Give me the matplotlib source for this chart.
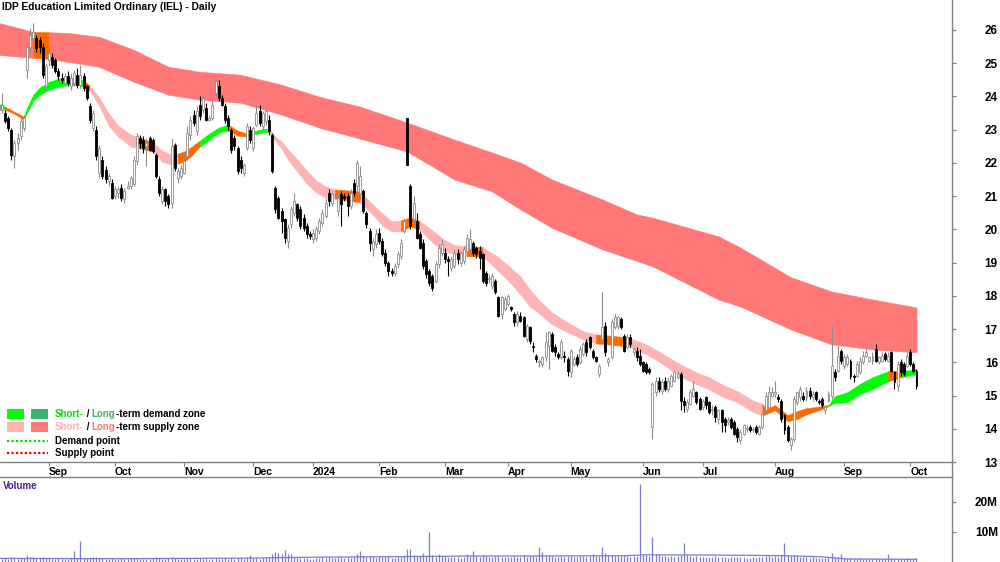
import matplotlib

matplotlib.use("Agg")
import matplotlib.pyplot as plt
import numpy as np
import pandas as pd
from matplotlib.lines import Line2D
from matplotlib.patches import Rectangle

TITLE = "IDP Education Limited Ordinary (IEL) - Daily"

FIRST_DAY = "2023-08-10"
LAST_DAY = "2024-10-03"
ASX_HOLIDAYS = ["2023-12-25", "2023-12-26", "2024-01-01", "2024-01-26",
                "2024-03-29", "2024-04-01", "2024-04-25", "2024-06-10"]
MONTH_LABELS = ["Sep", "Oct", "Nov", "Dec", "2024", "Feb", "Mar", "Apr",
                "May", "Jun", "Jul", "Aug", "Sep", "Oct"]

opens = [
    23.60, 23.60, 23.50, 23.35, 23.00, 22.20, 22.60, 22.80, 23.05, 24.80,
    25.50, 25.75, 25.75, 25.70, 25.50, 24.30, 25.10, 25.20, 25.10, 24.75,
    24.55, 24.40, 24.60, 24.30, 24.40, 24.65, 24.35, 24.60, 24.30, 23.70,
    23.05, 23.00, 21.70, 22.10, 21.80, 21.45, 21.40, 21.00, 21.10, 21.25,
    20.90, 21.25, 21.30, 21.35, 22.05, 22.75, 22.70, 22.50, 22.75, 22.70,
    22.25, 21.50, 20.85, 21.20, 21.00, 20.80, 22.55, 21.55, 21.60, 21.70,
    22.20, 22.85, 23.45, 22.95, 23.75, 23.60, 23.65, 23.30, 23.35, 24.10,
    24.30, 23.95, 23.70, 23.35, 23.00, 22.75, 22.45, 22.10, 21.70, 22.45,
    23.00, 22.45, 23.15, 23.55, 23.10, 23.25, 23.30, 22.85, 21.25, 20.95,
    20.55, 20.30, 19.65, 20.15, 20.50, 20.75, 20.60, 20.35, 20.10, 19.85,
    19.70, 19.75, 19.95, 20.20, 20.40, 21.10, 20.80, 21.00, 20.55, 21.05,
    21.00, 21.00, 20.70, 21.40, 21.30, 21.10, 21.15, 20.50, 19.95, 19.40,
    19.55, 19.90, 19.65, 19.30, 19.00, 18.75, 18.70, 18.95, 19.20, 19.95,
    23.35, 21.30, 20.30, 20.25, 19.85, 19.60, 19.05, 18.75, 18.60, 18.45,
    18.95, 19.30, 19.30, 19.10, 18.85, 18.90, 19.30, 19.00, 19.05, 19.35,
    19.40, 19.60, 19.45, 19.35, 19.25, 18.70, 18.50, 18.30, 18.45, 17.95,
    17.45, 17.60, 17.75, 17.65, 17.45, 17.20, 17.40, 17.35, 16.70, 17.05,
    16.50, 16.20, 16.00, 15.95, 16.15, 16.50, 16.85, 16.45, 16.25, 16.15,
    16.20, 16.10, 15.70, 15.95, 16.15, 16.00, 16.25, 16.60, 16.75, 16.35,
    16.15, 15.65, 16.70, 17.10, 16.00, 16.15, 17.05, 17.10, 17.30, 16.80,
    16.45, 16.75, 16.30, 16.35, 16.20, 16.00, 15.95, 15.80, 14.05, 15.10,
    15.45, 15.15, 15.45, 15.20, 15.30, 15.45, 15.55, 15.65, 14.85, 14.60,
    14.75, 15.00, 15.10, 14.90, 14.65, 14.95, 14.80, 14.55, 14.65, 14.30,
    14.55, 14.30, 14.20, 14.30, 14.20, 14.00, 13.65, 13.85, 14.00, 14.05,
    13.95, 14.05, 13.85, 14.05, 14.55, 14.65, 15.00, 15.05, 14.95, 14.85,
    14.40, 14.05, 13.50, 13.70, 14.80, 14.95, 15.00, 14.95, 15.15, 14.95,
    15.10, 14.85, 14.90, 14.55, 14.85, 15.00, 15.70, 15.75, 16.35, 15.90,
    15.95, 16.05, 15.60, 15.60, 15.70, 16.00, 16.20, 16.05, 16.05, 16.40,
    16.00, 16.05, 16.25, 16.05, 16.30, 15.70, 15.30, 16.00, 15.95, 15.90,
    16.30, 15.95, 15.75,
]
highs = [
    23.80, 24.10, 23.60, 23.40, 23.05, 22.70, 22.90, 23.35, 23.45, 25.60,
    26.05, 26.20, 25.85, 25.80, 25.60, 25.00, 25.45, 25.30, 25.15, 24.85,
    24.70, 24.70, 24.75, 24.70, 24.80, 24.85, 24.95, 24.70, 24.35, 23.80,
    23.60, 23.10, 22.55, 22.20, 21.90, 21.70, 21.50, 21.30, 21.30, 21.35,
    21.25, 21.45, 21.60, 22.20, 22.90, 22.85, 22.80, 22.75, 22.80, 22.75,
    22.30, 21.60, 21.30, 21.25, 21.05, 22.75, 22.60, 21.85, 21.95, 22.15,
    23.10, 23.40, 23.60, 23.70, 24.00, 24.05, 23.80, 23.45, 23.85, 24.55,
    24.50, 24.05, 23.80, 23.45, 23.05, 22.85, 22.50, 22.20, 22.00, 23.20,
    23.10, 23.10, 23.75, 23.75, 23.55, 23.60, 23.45, 22.90, 21.30, 21.00,
    20.65, 20.35, 20.15, 20.70, 21.10, 20.80, 20.70, 20.45, 20.20, 19.95,
    20.00, 20.10, 20.35, 20.60, 20.95, 21.20, 21.15, 21.10, 21.05, 21.15,
    21.10, 21.10, 21.20, 21.50, 22.10, 21.90, 21.20, 20.55, 20.05, 19.75,
    20.00, 20.05, 19.75, 19.40, 19.05, 18.85, 19.00, 19.35, 19.70, 20.30,
    23.35, 21.35, 21.00, 20.50, 19.95, 19.70, 19.10, 18.80, 18.65, 19.05,
    19.55, 19.70, 19.45, 19.20, 19.20, 19.40, 19.40, 19.35, 19.50, 19.85,
    20.00, 19.65, 19.50, 19.50, 19.30, 18.75, 18.65, 18.70, 18.50, 18.00,
    18.00, 18.00, 18.05, 17.70, 17.50, 17.55, 17.50, 17.40, 17.15, 17.10,
    16.60, 16.25, 16.10, 16.20, 16.90, 16.95, 16.90, 16.55, 16.30, 16.70,
    16.35, 16.15, 16.40, 16.20, 16.25, 16.50, 16.60, 16.70, 16.80, 16.40,
    16.20, 15.95, 18.10, 17.20, 16.15, 17.30, 17.45, 17.40, 17.35, 16.85,
    16.85, 16.85, 16.45, 16.45, 16.40, 16.05, 16.00, 15.85, 15.40, 15.55,
    15.55, 15.50, 15.55, 15.55, 15.65, 15.75, 15.75, 15.70, 14.95, 14.90,
    15.20, 15.45, 15.15, 14.95, 14.90, 15.00, 14.85, 14.70, 14.70, 14.60,
    14.60, 14.35, 14.35, 14.35, 14.25, 14.05, 14.00, 14.15, 14.10, 14.10,
    14.05, 14.10, 14.10, 14.50, 15.10, 15.30, 15.25, 15.45, 15.05, 14.90,
    14.45, 14.10, 13.75, 15.00, 15.15, 15.30, 15.10, 15.25, 15.25, 15.15,
    15.15, 14.90, 14.95, 14.70, 15.15, 17.10, 15.80, 16.50, 16.40, 16.25,
    16.25, 16.10, 15.65, 16.05, 16.15, 16.35, 16.40, 16.20, 16.30, 16.55,
    16.20, 16.30, 16.30, 16.30, 16.35, 15.75, 16.05, 16.10, 16.00, 16.30,
    16.40, 16.00, 15.80,
]
lows = [
    23.45, 23.50, 23.20, 22.95, 22.10, 21.85, 22.40, 22.70, 22.95, 24.55,
    25.35, 25.60, 25.35, 25.30, 24.55, 24.20, 24.90, 24.85, 24.70, 24.50,
    24.40, 24.30, 24.30, 24.20, 24.30, 24.25, 24.25, 24.15, 23.90, 23.20,
    22.95, 22.10, 21.55, 21.50, 21.40, 21.30, 20.90, 20.90, 20.95, 20.85,
    20.80, 21.20, 21.20, 21.30, 21.95, 22.45, 22.30, 21.90, 22.35, 22.30,
    21.55, 21.00, 20.75, 20.70, 20.65, 20.65, 21.75, 21.40, 21.50, 21.65,
    22.10, 22.70, 23.10, 22.85, 23.30, 23.50, 23.25, 23.25, 23.30, 24.00,
    23.85, 23.70, 23.20, 23.00, 22.30, 22.40, 21.65, 21.70, 21.60, 22.40,
    22.60, 22.35, 23.10, 23.10, 23.00, 23.15, 22.85, 21.70, 20.50, 20.30,
    19.90, 19.60, 19.45, 20.05, 20.40, 20.25, 20.00, 19.95, 19.75, 19.70,
    19.60, 19.65, 19.85, 20.10, 20.35, 20.70, 20.70, 20.90, 20.40, 20.10,
    20.85, 20.40, 20.60, 21.00, 21.15, 20.90, 20.50, 20.05, 19.35, 19.20,
    19.45, 19.55, 19.20, 18.90, 18.60, 18.60, 18.60, 18.85, 19.10, 19.90,
    21.95, 20.00, 20.20, 19.70, 19.40, 18.80, 18.55, 18.30, 18.15, 18.40,
    18.85, 19.20, 19.00, 18.60, 18.75, 18.85, 18.95, 18.90, 18.95, 19.25,
    19.35, 19.20, 19.15, 18.80, 18.40, 18.30, 18.40, 18.20, 18.05, 17.35,
    17.30, 17.55, 17.70, 17.55, 17.10, 17.10, 17.20, 16.75, 16.60, 16.55,
    16.30, 16.00, 15.85, 15.85, 16.05, 15.80, 16.30, 16.20, 16.10, 16.10,
    16.00, 15.60, 15.55, 15.90, 15.90, 15.95, 16.20, 16.20, 16.40, 16.10,
    16.00, 15.55, 16.60, 16.20, 15.90, 16.10, 17.00, 17.00, 17.00, 16.30,
    16.40, 16.45, 16.20, 16.05, 15.90, 15.70, 15.65, 15.65, 13.70, 15.00,
    15.10, 15.05, 15.15, 15.10, 15.25, 15.40, 15.50, 14.55, 14.50, 14.50,
    14.70, 14.95, 14.75, 14.55, 14.55, 14.60, 14.45, 14.40, 14.20, 14.15,
    13.90, 13.90, 14.10, 14.00, 13.80, 13.60, 13.55, 13.80, 13.90, 13.90,
    13.90, 13.85, 13.80, 14.00, 14.45, 14.55, 14.95, 14.95, 14.80, 14.20,
    13.85, 13.60, 13.35, 13.60, 14.70, 14.85, 14.85, 14.85, 14.90, 14.85,
    14.85, 14.75, 14.65, 14.45, 14.80, 14.90, 15.45, 15.70, 15.95, 15.80,
    15.90, 15.50, 15.40, 15.55, 15.65, 15.95, 16.15, 16.00, 15.95, 16.00,
    15.95, 16.00, 16.05, 16.00, 15.70, 15.20, 15.15, 15.60, 15.60, 15.85,
    15.90, 15.70, 15.20,
]
closes = [
    23.70, 23.75, 23.25, 23.05, 22.25, 22.60, 22.75, 23.25, 23.35, 25.50,
    25.85, 25.95, 25.45, 25.50, 24.65, 24.90, 25.30, 24.95, 24.75, 24.60,
    24.50, 24.60, 24.40, 24.55, 24.70, 24.35, 24.65, 24.25, 23.95, 23.30,
    23.50, 22.20, 22.45, 21.60, 21.50, 21.60, 20.95, 21.20, 21.20, 20.95,
    21.15, 21.30, 21.55, 22.10, 22.80, 22.60, 22.45, 22.60, 22.40, 22.35,
    21.60, 21.10, 21.20, 20.85, 20.75, 22.50, 21.85, 21.75, 21.85, 22.05,
    22.90, 23.30, 23.20, 23.55, 23.40, 23.95, 23.30, 23.35, 23.75, 24.45,
    23.95, 23.75, 23.30, 23.10, 22.40, 22.50, 21.75, 21.85, 21.95, 23.10,
    22.70, 23.05, 23.50, 23.20, 23.50, 23.55, 22.95, 21.75, 20.60, 20.35,
    20.25, 19.75, 20.05, 20.60, 20.85, 20.35, 20.10, 20.05, 19.85, 19.80,
    19.90, 20.00, 20.25, 20.50, 20.80, 20.85, 21.05, 21.00, 20.95, 20.75,
    20.95, 20.70, 21.10, 21.10, 22.00, 21.60, 20.55, 20.15, 19.60, 19.65,
    19.85, 19.65, 19.25, 19.00, 18.75, 18.70, 18.90, 19.25, 19.60, 20.25,
    21.95, 20.10, 20.80, 19.75, 19.45, 18.90, 18.65, 18.40, 18.25, 18.95,
    19.45, 19.55, 19.10, 19.05, 19.10, 19.30, 19.10, 19.30, 19.40, 19.75,
    19.70, 19.30, 19.25, 19.15, 18.45, 18.40, 18.55, 18.60, 18.10, 17.40,
    17.95, 17.90, 18.00, 17.60, 17.20, 17.45, 17.25, 16.80, 17.10, 16.65,
    16.45, 16.10, 16.05, 16.15, 16.60, 16.90, 16.35, 16.30, 16.15, 16.60,
    16.15, 15.75, 16.35, 16.10, 15.95, 16.40, 16.55, 16.30, 16.45, 16.15,
    16.05, 15.90, 17.05, 16.30, 16.10, 17.20, 17.35, 17.35, 17.05, 16.35,
    16.75, 16.55, 16.40, 16.15, 15.95, 15.75, 15.70, 15.70, 15.35, 15.45,
    15.20, 15.40, 15.20, 15.45, 15.60, 15.70, 15.65, 14.85, 14.70, 14.80,
    15.10, 15.20, 14.80, 14.60, 14.85, 14.70, 14.50, 14.60, 14.35, 14.55,
    14.20, 14.10, 14.25, 14.05, 13.85, 13.75, 13.90, 14.10, 14.00, 13.95,
    14.00, 13.90, 14.05, 14.45, 15.00, 15.10, 15.10, 15.10, 14.90, 14.30,
    13.95, 13.65, 13.70, 14.90, 15.10, 15.20, 14.90, 15.15, 15.00, 15.05,
    14.90, 14.80, 14.70, 14.65, 15.05, 15.90, 15.55, 16.20, 16.05, 16.15,
    16.15, 15.60, 15.55, 15.95, 16.05, 16.20, 16.30, 16.15, 16.20, 16.05,
    16.15, 16.20, 16.10, 16.20, 15.75, 15.40, 15.95, 15.70, 15.65, 16.20,
    15.95, 15.75, 15.30,
]
# daily volume, millions of shares
volumes_m = [
    1.3, 1.1, 1.2, 1.0, 1.5, 1.2, 1.1, 1.3, 1.2, 2.3,
    1.8, 1.5, 1.4, 1.3, 1.6, 1.2, 1.4, 1.1, 1.0, 1.2,
    1.1, 0.9, 1.0, 1.2, 3.7, 1.4, 7.1, 1.3, 1.2, 1.4,
    1.5, 1.6, 1.4, 1.2, 1.1, 1.0, 1.3, 1.1, 0.9, 1.2,
    1.0, 1.1, 1.2, 1.3, 1.4, 1.0, 0.9, 1.1, 1.0, 1.2,
    1.5, 1.3, 1.0, 1.1, 1.2, 1.6, 1.2, 1.0, 0.9, 1.1,
    1.3, 1.2, 1.0, 1.1, 1.2, 0.9, 1.0, 0.8, 1.0, 1.2,
    1.1, 1.0, 1.2, 0.9, 1.3, 1.1, 1.4, 1.2, 1.0, 1.5,
    2.3, 1.2, 1.3, 1.1, 1.4, 1.2, 1.6, 2.5, 3.2, 3.0,
    2.5, 4.0, 2.8, 2.6, 1.8, 1.5, 1.3, 1.2, 1.4, 1.0,
    1.1, 1.3, 1.2, 1.5, 1.4, 1.6, 1.3, 1.2, 1.8, 1.5,
    1.3, 1.6, 1.4, 1.7, 2.6, 3.5, 2.2, 1.8, 2.0, 1.6,
    1.4, 1.5, 1.7, 1.6, 1.9, 1.3, 1.4, 1.5, 1.8, 2.2,
    4.3, 4.3, 2.4, 1.9, 2.1, 3.0, 2.0, 10.0, 2.2, 1.8,
    2.7, 2.0, 1.9, 1.6, 1.5, 1.7, 1.8, 1.4, 1.6, 2.8,
    2.1, 3.5, 2.0, 1.8, 2.4, 1.9, 1.6, 1.7, 1.9, 2.0,
    1.8, 1.6, 1.5, 1.7, 1.9, 1.6, 1.8, 2.2, 1.7, 1.9,
    2.0, 1.8, 5.0, 3.4, 2.0, 2.2, 1.9, 1.7, 1.8, 2.0,
    1.6, 2.1, 1.9, 1.8, 1.7, 1.9, 2.0, 1.6, 2.1, 2.5,
    1.9, 2.0, 5.0, 3.0, 2.2, 2.4, 2.1, 1.9, 2.0, 2.3,
    2.1, 1.8, 1.9, 2.0, 26.0, 2.4, 2.2, 2.0, 8.3, 2.6,
    2.2, 2.0, 1.9, 1.8, 2.1, 1.7, 1.9, 2.4, 6.3, 2.3,
    2.0, 1.8, 1.9, 1.7, 1.6, 1.8, 1.5, 1.7, 1.9, 1.6,
    1.8, 1.5, 1.4, 1.6, 1.7, 1.5, 1.8, 1.6, 1.4, 1.3,
    1.5, 1.4, 1.6, 1.8, 2.0, 1.9, 1.7, 1.9, 1.6, 2.2,
    6.4, 2.4, 2.0, 2.3, 1.9, 1.7, 1.5, 1.6, 1.4, 1.5,
    1.3, 1.2, 1.4, 1.3, 1.5, 3.0, 1.6, 1.8, 2.5, 1.4,
    1.2, 1.3, 1.1, 1.0, 1.2, 0.9, 1.1, 1.0, 0.9, 1.2,
    1.0, 0.9, 1.1, 2.5, 1.2, 1.0, 1.1, 0.9, 1.0, 1.2,
    1.1, 0.9, 1.3,
]

# volume average line, read at a few candle positions
vol_ma_idx = [0, 40, 80, 100, 130, 150, 170, 200, 205, 230, 250, 262, 270, 292]
vol_ma_m = [1.2, 1.1, 1.3, 1.6, 1.8, 2.0, 2.0, 2.1, 2.4, 2.3, 2.1, 1.7, 1.0, 0.9]

# long-term supply zone edges, read at candle positions
long_idx = [0, 11, 16, 22, 32, 43, 54, 64, 77, 90, 102, 115, 130, 145, 157,
            166, 176, 192, 203, 208, 229, 236, 252, 265, 278, 292]
long_top = [26.21, 25.94, 25.93, 25.91, 25.79, 25.40, 24.89, 24.74, 24.65, 24.35,
            23.99, 23.69, 23.21, 22.70, 22.31, 22.01, 21.50, 20.90, 20.45, 20.35,
            19.79, 19.45, 18.56, 18.13, 17.89, 17.65]
long_bot = [25.25, 25.16, 25.13, 25.04, 24.89, 24.44, 24.05, 23.90, 23.81, 23.45,
            23.06, 22.73, 22.34, 21.50, 21.14, 20.60, 20.05, 19.40, 19.05, 18.89,
            17.89, 17.68, 16.99, 16.54, 16.39, 16.30]
long_zone = ["r", "o", "r", "r", "r", "r", "r", "r", "r", "r", "r", "r", "r",
             "r", "r", "r", "r", "r", "r", "r", "r", "r", "r", "r", "r", "r"]

# short-term zone edges; zone letter colours the stretch up to the next point
short_idx = [0, 2, 5, 8, 9, 11, 13, 16, 19, 22, 25, 27, 29, 32, 35, 38, 42, 44,
             49, 52, 55, 57, 59, 61, 64, 67, 70, 73, 76, 79, 81, 85, 86, 88, 90,
             92, 95, 98, 101, 104, 107, 115, 119, 122, 125, 128, 131, 134, 138,
             141, 145, 149, 154, 159, 162, 166, 169, 172, 176, 181, 186, 190,
             200, 206, 210, 214, 218, 222, 226, 230, 235, 240, 243, 244, 247,
             251, 254, 257, 262, 264, 266, 270, 274, 278, 283, 287, 292]
short_top = [23.78, 23.69, 23.54, 23.39, 23.66, 24.05, 24.26, 24.44, 24.53, 24.56,
             24.53, 24.47, 24.32, 23.96, 23.48, 23.12, 22.85, 22.79, 22.61, 22.37,
             22.25, 22.28, 22.34, 22.46, 22.67, 22.88, 23.06, 23.15, 22.97, 22.88,
             22.95, 23.03, 23.00, 22.79, 22.64, 22.40, 22.10, 21.77, 21.47, 21.29,
             21.20, 21.14, 20.75, 20.48, 20.24, 20.27, 20.36, 20.24, 19.97, 19.73,
             19.52, 19.49, 19.46, 19.16, 18.92, 18.58, 18.19, 17.86, 17.50, 17.20,
             16.93, 16.84, 16.75, 16.54, 16.33, 16.09, 15.88, 15.70, 15.55, 15.34,
             15.13, 14.85, 14.75, 14.59, 14.71, 14.41, 14.53, 14.62, 14.68, 14.71,
             14.98, 15.10, 15.35, 15.55, 15.73, 15.73, 15.79]
short_bot = [23.63, 23.60, 23.48, 23.30, 23.51, 23.87, 24.05, 24.20, 24.29, 24.35,
             24.35, 24.29, 24.17, 23.72, 23.12, 22.79, 22.49, 22.46, 22.34, 22.04,
             21.95, 21.98, 22.04, 22.19, 22.49, 22.70, 22.91, 22.97, 22.82, 22.79,
             22.85, 22.94, 22.91, 22.67, 22.43, 22.10, 21.74, 21.38, 21.11, 20.96,
             20.93, 20.81, 20.45, 20.12, 19.94, 19.94, 20.09, 20.00, 19.61, 19.37,
             19.25, 19.19, 19.19, 18.74, 18.47, 18.04, 17.68, 17.47, 17.14, 16.90,
             16.69, 16.57, 16.48, 16.24, 16.03, 15.76, 15.52, 15.34, 15.19, 14.98,
             14.80, 14.50, 14.40, 14.44, 14.56, 14.23, 14.29, 14.44, 14.59, 14.68,
             14.77, 14.80, 15.05, 15.19, 15.43, 15.55, 15.64]
short_zone = ["g", "o", "o", "g", "g", "g", "g", "g", "g", "g", "g", "o", "p",
              "p", "p", "p", "p", "o", "p", "p", "p", "o", "o", "o", "g", "g",
              "g", "o", "o", "g", "g", "g", "p", "p", "p", "p", "p", "p", "p",
              "p", "o", "p", "p", "p", "p", "o", "o", "p", "p", "p", "p", "o",
              "p", "p", "p", "p", "p", "p", "p", "p", "p", "o", "p", "p", "p",
              "p", "p", "p", "p", "p", "p", "p", "o", "o", "o", "o", "o", "o",
              "o", "g", "g", "g", "g", "g", "o", "g", "g"]

price_ticks = list(range(13, 27))
volume_ticks_m = [10, 20]

ZONE_COLORS = {"r": "#FF7777", "o": "#FF6A00", "g": "#00FF00", "p": "#FFB3B3"}
AXIS_GREY = "#808080"
VOL_COLOR = "#7B7BCF"

W, H = 1000, 562


def fx(px):
    return px / W


def fy(py):
    return 1 - py / H


def draw_zone(ax, idx, top, bot, zones):
    for k in range(len(idx) - 1):
        color = ZONE_COLORS[zones[k]]
        ax.fill_between(idx[k:k + 2], top[k:k + 2], bot[k:k + 2],
                        facecolor=color, edgecolor=color, linewidth=0.4, zorder=1)


def chained_text(fig, x_px, y_px, parts, **kw):
    renderer = fig.canvas.get_renderer()
    x = x_px
    for text, color in parts:
        t = fig.text(fx(x), fy(y_px), text, color=color, va="center", ha="left", **kw)
        x += t.get_window_extent(renderer).width


def main():
    plt.rcParams["font.family"] = ["Liberation Sans", "DejaVu Sans"]

    days = pd.bdate_range(FIRST_DAY, LAST_DAY, freq="C", holidays=ASX_HOLIDAYS)
    n = len(days)
    assert n == len(opens) == len(highs) == len(lows) == len(closes) == len(volumes_m)
    month_pos = [i for i in range(1, n) if days[i].month != days[i - 1].month]

    x = np.arange(n)
    o = np.array(opens)
    h = np.array(highs)
    lo = np.array(lows)
    c = np.array(closes)
    up = c >= o

    fig = plt.figure(figsize=(W / 100, H / 100), dpi=100)
    ax = fig.add_axes([0, fy(462), fx(952), 1 - fy(462)])
    axv = fig.add_axes([0, 0, fx(952), fy(477)])

    # zones
    draw_zone(ax, long_idx, long_top, long_bot, long_zone)
    draw_zone(ax, short_idx, short_top, short_bot, short_zone)

    # candles
    edge = np.where(up, "#8C8C8C", "#000000")
    face = np.where(up, "#FFFFFF", "#000000")
    ax.vlines(x, lo, h, colors=edge, linewidth=0.8, zorder=3)
    body = np.maximum(np.abs(c - o), 0.015)
    ax.bar(x, body, bottom=np.minimum(o, c), width=0.62, color=face,
           edgecolor=edge, linewidth=0.6, zorder=4)

    ax.set_xlim(0.41, 303.3)
    ax.set_ylim(13.03, 26.90)
    for side in ("left", "top"):
        ax.spines[side].set_visible(False)
    for side in ("right", "bottom"):
        ax.spines[side].set_color(AXIS_GREY)
        ax.spines[side].set_linewidth(1.0)

    ax.yaxis.tick_right()
    ax.set_yticks(price_ticks)
    ax.set_yticklabels([str(v) for v in price_ticks], fontsize=8.5, fontweight="bold")
    ax.tick_params(axis="y", direction="out", length=3, color=AXIS_GREY, pad=30)
    for lab in ax.get_yticklabels():
        lab.set_ha("right")

    ax.set_xticks(month_pos)
    ax.set_xticklabels(MONTH_LABELS, fontsize=7.5, fontweight="bold")
    ax.tick_params(axis="x", direction="out", length=3, color=AXIS_GREY, pad=0.5)
    for lab in ax.get_xticklabels():
        lab.set_ha("left")

    # volume
    axv.vlines(x, 0, volumes_m, colors=VOL_COLOR, linewidth=0.9)
    axv.plot(vol_ma_idx, vol_ma_m, color=VOL_COLOR, linewidth=0.9)
    axv.set_xlim(ax.get_xlim())
    axv.set_ylim(0, 28.3)
    axv.set_xticks([])
    for side in ("left", "bottom"):
        axv.spines[side].set_visible(False)
    for side in ("right", "top"):
        axv.spines[side].set_color(AXIS_GREY)
        axv.spines[side].set_linewidth(1.0)
    axv.yaxis.tick_right()
    axv.set_yticks(volume_ticks_m)
    axv.set_yticklabels([f"{v}M" for v in volume_ticks_m], fontsize=8.5, fontweight="bold")
    axv.tick_params(axis="y", direction="out", length=3, color=AXIS_GREY, pad=30)
    for lab in axv.get_yticklabels():
        lab.set_ha("right")
    fig.text(fx(3), fy(486), "Volume", color="#4B1C8C", fontsize=7, fontweight="bold",
             va="center", ha="left")
    fig.add_artist(Line2D([fx(952), fx(952)], [fy(462), fy(477)], color=AXIS_GREY,
                          linewidth=1.0, transform=fig.transFigure))

    # title
    fig.text(fx(2), fy(7), TITLE, fontsize=7.4, fontweight="bold", va="center", ha="left")

    # legend
    for (x0, y0, color) in [(7, 409, "#00FF00"), (31, 409, "#3CB371"),
                            (7, 422, "#FFB3B3"), (31, 422, "#FF7777")]:
        fig.add_artist(Rectangle((fx(x0), fy(y0 + 10)), fx(17), 10 / H, facecolor=color,
                                 edgecolor="none", transform=fig.transFigure))
    fig.add_artist(Line2D([fx(7), fx(48)], [fy(441), fy(441)], color="#00DD00",
                          linewidth=1.6, linestyle=(0, (1, 1)), transform=fig.transFigure))
    fig.add_artist(Line2D([fx(7), fx(48)], [fy(453), fy(453)], color="#EE0000",
                          linewidth=1.6, linestyle=(0, (1, 1)), transform=fig.transFigure))
    kw = dict(fontsize=7, fontweight="bold")
    chained_text(fig, 55, 414, [("Short-", "#00E000"), (" / ", "black"),
                                ("Long", "#3CB371"), ("-term demand zone", "black")], **kw)
    chained_text(fig, 55, 427, [("Short-", "#FFB3B3"), (" / ", "black"),
                                ("Long", "#FF7777"), ("-term supply zone", "black")], **kw)
    chained_text(fig, 55, 441, [("Demand point", "black")], **kw)
    chained_text(fig, 55, 453, [("Supply point", "black")], **kw)

    fig.savefig("out.png", dpi=100)
    plt.close(fig)


if __name__ == "__main__":
    main()
